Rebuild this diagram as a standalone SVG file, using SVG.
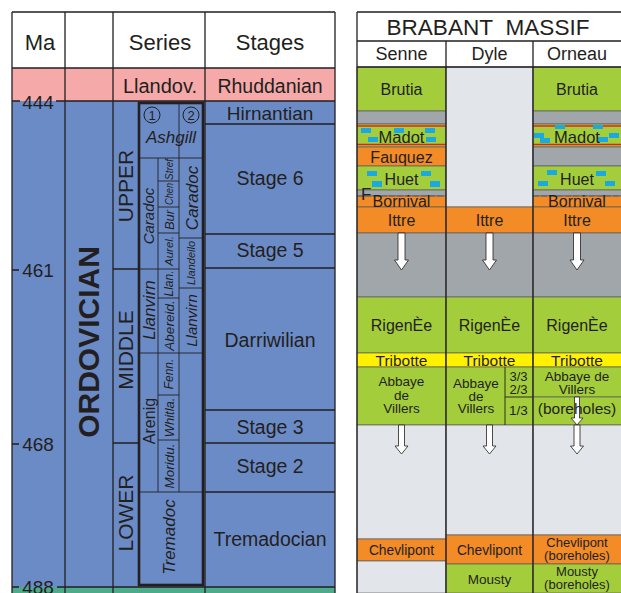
<svg xmlns="http://www.w3.org/2000/svg" width="621" height="593" viewBox="0 0 621 593">
<style>
.t{font-family:"Liberation Sans",Arial,sans-serif;fill:#231f20}
.i{font-style:italic}
.m{text-anchor:middle}
.b{font-weight:bold}
.ln{stroke:#231f20;stroke-width:1.3;fill:none}
.th{stroke:#231f20;stroke-width:0.9;fill:none}
.g{fill:#a3cd3b}
.o{fill:#f38b26}
.gr{fill:#a1a6ab}
.lg{fill:#e2e5ea}
.y{fill:#fff200}
.lay{stroke:#5a5b5d;stroke-width:0.7}
.bl{fill:#1ba9e1}
.red{stroke:#ec1c24;stroke-width:1.6}
.arr{fill:#ffffff;stroke:#231f20;stroke-width:0.8}
</style>
<rect width="621" height="593" fill="#ffffff"/>

<!-- LEFT PANEL -->
<g id="chronostrat">
<rect x="12" y="12" width="323" height="56" fill="#ffffff"/>
<rect x="12" y="68" width="323" height="33" fill="#f6a9a9"/>
<rect x="12" y="101" width="323" height="486" fill="#6b8bc7"/>
<rect x="12" y="587" width="323" height="6" fill="#4dab8c"/>
</g>

<g id="header-left">
<text class="t m" x="40" y="50" font-size="22">Ma</text>
<text class="t m" x="160" y="50" font-size="22">Series</text>
<text class="t m" x="270" y="50" font-size="22">Stages</text>
<text class="t m" x="160" y="93" font-size="20">Llandov.</text>
<text class="t m" x="270" y="93" font-size="19.5">Rhuddanian</text>
</g>

<g id="ma-scale">
<text class="t m" x="38" y="109" font-size="19">444</text>
<text class="t m" x="38" y="277" font-size="19">461</text>
<text class="t m" x="38" y="451" font-size="19">468</text>
<text class="t m" x="38" y="594" font-size="19">488</text>
</g>

<g id="system">
<text class="t m b" font-size="30" transform="translate(99,342) rotate(-90)">ORDOVICIAN</text>
</g>

<g id="epochs">
<text class="t m" font-size="21" transform="translate(132.5,186) rotate(-90)">UPPER</text>
<text class="t m" font-size="21" transform="translate(132.5,350) rotate(-90)">MIDDLE</text>
<text class="t m" font-size="21" transform="translate(132.5,513) rotate(-90)">LOWER</text>
</g>

<g id="british-series">
<circle cx="152" cy="115" r="8" fill="none" stroke="#231f20" stroke-width="1"/>
<text class="t m" x="152" y="120" font-size="13">1</text>
<circle cx="191" cy="115" r="8" fill="none" stroke="#231f20" stroke-width="1"/>
<text class="t m" x="191" y="120" font-size="13">2</text>
<text class="t m i" x="171" y="143" font-size="17">Ashgill</text>
<text class="t m i" font-size="15" transform="translate(154,216) rotate(-90)">Caradoc</text>
<text class="t m i" font-size="17" transform="translate(155,310) rotate(-90)">Llanvirn</text>
<text class="t m" font-size="16" transform="translate(155,421) rotate(-90)">Arenig</text>
<text class="t m i" font-size="17" transform="translate(175,537) rotate(-90)">Tremadoc</text>
<text class="t m i" font-size="11" textLength="21" lengthAdjust="spacingAndGlyphs" transform="translate(172.5,169.5) rotate(-90)">Stref</text>
<text class="t m i" font-size="11" textLength="22" lengthAdjust="spacingAndGlyphs" transform="translate(172.5,194) rotate(-90)">Chen</text>
<text class="t m i" font-size="13" transform="translate(173.5,220) rotate(-90)">Bur</text>
<text class="t m i" font-size="11.5" transform="translate(172.5,251) rotate(-90)">Aurel.</text>
<text class="t m i" font-size="12" transform="translate(173,283.5) rotate(-90)">Llan.</text>
<text class="t m i" font-size="13.5" transform="translate(173.5,325.5) rotate(-90)">Abereid.</text>
<text class="t m i" font-size="12" transform="translate(173,374) rotate(-90)">Fenn.</text>
<text class="t m i" font-size="13" transform="translate(173.5,417.5) rotate(-90)">Whitla.</text>
<text class="t m i" font-size="13.5" transform="translate(173.5,466) rotate(-90)">Moridu.</text>
<text class="t m i" font-size="17" transform="translate(197.5,198) rotate(-90)">Caradoc</text>
<text class="t m i" font-size="11" transform="translate(195,263) rotate(-90)">Llandeilo</text>
<text class="t m i" font-size="15" transform="translate(196.5,320.5) rotate(-90)">Llanvirn</text>
</g>

<g id="stages">
<text class="t m" x="270" y="120" font-size="19">Hirnantian</text>
<text class="t m" x="270" y="185" font-size="19.5">Stage 6</text>
<text class="t m" x="270" y="257" font-size="19.5">Stage 5</text>
<text class="t m" x="270" y="347" font-size="19.5">Darriwilian</text>
<text class="t m" x="270" y="434" font-size="19.5">Stage 3</text>
<text class="t m" x="270" y="473" font-size="19.5">Stage 2</text>
<text class="t m" x="270" y="546" font-size="19.5">Tremadocian</text>
</g>

<g id="grid-left">
<path class="ln" d="M12 12V593M65 12V593M113 12V593M205 12V593M335 12V593"/>
<path class="ln" d="M12 12H335M12 68H335"/>
<path class="ln" d="M12 101H20M56 101H335M12 587H19M57 587H335"/>
<path class="ln" d="M12 270H19M12 444H19"/>
<path class="ln" d="M205 124H335M205 234H335M205 268H335M205 410H335M205 443H335M205 492H335"/>
<path class="ln" d="M113 269H139M113 443H139"/>
<rect x="139" y="103" width="64" height="482" fill="none" stroke="#231f20" stroke-width="2.6"/>
<path class="th" d="M179 103V158M139 158H203M158 158V492M179 158V492"/>
<path class="th" d="M158 181H179M158 207H179M158 233H179M139 269H179M158 298H179M139 353H203M158 395H179M158 440H179M139 492H203"/>
<path class="th" d="M179 238H203M179 288H203"/>
</g>

<!-- RIGHT PANEL -->
<g id="header-right">
<rect x="357" y="12" width="264" height="55" fill="#ffffff"/>
<text class="t m" x="488" y="35" font-size="22" textLength="203" lengthAdjust="spacingAndGlyphs">BRABANT&#160; MASSIF</text>
<text class="t m" x="401.5" y="60" font-size="18">Senne</text>
<text class="t m" x="489.5" y="60" font-size="18">Dyle</text>
<text class="t m" x="577" y="60" font-size="18">Orneau</text>
</g>

<g id="senne">
<rect class="g lay" x="357" y="67" width="89" height="44"/>
<rect class="gr lay" x="357" y="111" width="89" height="13"/>
<rect class="g lay" x="357" y="124" width="89" height="23"/>
<rect class="o lay" x="357" y="147" width="89" height="19"/>
<rect class="g lay" x="357" y="166" width="89" height="24"/>
<rect class="gr lay" x="357" y="190" width="89" height="6"/>
<rect class="o lay" x="357" y="196" width="89" height="11"/>
<rect class="o lay" x="357" y="207" width="89" height="26"/>
<rect class="gr lay" x="357" y="233" width="89" height="64"/>
<rect class="g lay" x="357" y="297" width="89" height="56"/>
<rect class="y lay" x="357" y="353" width="89" height="14"/>
<rect class="g lay" x="357" y="367" width="89" height="58"/>
<rect class="lg lay" x="357" y="425" width="89" height="114"/>
<rect class="o lay" x="357" y="539" width="89" height="22"/>
<rect class="lg lay" x="357" y="561" width="89" height="32"/>
<line class="red" x1="357" y1="126" x2="446" y2="126"/>
<line class="red" x1="357" y1="144.5" x2="446" y2="144.5"/>
<rect class="bl" x="361" y="128" width="10" height="5"/>
<rect class="bl" x="394" y="128" width="10" height="5"/>
<rect class="bl" x="425" y="128" width="10" height="5"/>
<rect class="bl" x="368" y="137" width="10" height="5"/>
<rect class="bl" x="426" y="137" width="10" height="5"/>
<rect class="bl" x="367" y="171" width="10" height="5"/>
<rect class="bl" x="372" y="181" width="10" height="6"/>
<rect class="bl" x="421" y="171" width="10" height="5"/>
<rect class="bl" x="430" y="181" width="10" height="6"/>
<line x1="357" y1="196" x2="446" y2="196" stroke="#5a5b5d" stroke-width="0.8" stroke-dasharray="6 2"/>
<text class="t m" x="401.5" y="95" font-size="16">Brutia</text>
<text class="t m" x="401.5" y="143" font-size="16.5">Madot</text>
<text class="t m" x="401.5" y="162.5" font-size="16">Fauquez</text>
<text class="t m" x="401.5" y="184.5" font-size="16">Huet</text>
<text class="t" x="361" y="200" font-size="17">F</text>
<text class="t m" x="401.5" y="206.5" font-size="16">Bornival</text>
<text class="t m" x="401.5" y="225.5" font-size="16">Ittre</text>
<text class="t m" x="401.5" y="330.5" font-size="16">RigenÈe</text>
<text class="t m" x="401.5" y="365.5" font-size="15.5">Tribotte</text>
<text class="t m" x="401.5" y="386" font-size="13.5">Abbaye</text>
<text class="t m" x="401.5" y="400" font-size="13.5">de</text>
<text class="t m" x="401.5" y="413" font-size="13.5">Villers</text>
<text class="t m" x="401.5" y="555" font-size="13.8">Chevlipont</text>
</g>

<g id="dyle">
<rect class="lg lay" x="446" y="67" width="87" height="140"/>
<rect class="o lay" x="446" y="207" width="87" height="26"/>
<rect class="gr lay" x="446" y="233" width="87" height="64"/>
<rect class="g lay" x="446" y="297" width="87" height="56"/>
<rect class="y lay" x="446" y="353" width="87" height="14"/>
<rect class="g lay" x="446" y="367" width="87" height="58"/>
<rect class="lg lay" x="446" y="425" width="87" height="110"/>
<rect class="o lay" x="446" y="535" width="87" height="29"/>
<rect class="g lay" x="446" y="564" width="87" height="29"/>
<path class="th" d="M505 367V425M505 397H533"/>
<text class="t m" x="489.5" y="225.5" font-size="16">Ittre</text>
<text class="t m" x="489.5" y="330.5" font-size="16">RigenÈe</text>
<text class="t m" x="489.5" y="365.5" font-size="15.5">Tribotte</text>
<text class="t m" x="476" y="388" font-size="13.5">Abbaye</text>
<text class="t m" x="476" y="400.5" font-size="13.5">de</text>
<text class="t m" x="476" y="413" font-size="13.5">Villers</text>
<text class="t m" x="518.5" y="381" font-size="13">3/3</text>
<text class="t m" x="518.5" y="394" font-size="13">2/3</text>
<text class="t m" x="518.5" y="414.5" font-size="13.5">1/3</text>
<text class="t m" x="489.5" y="555" font-size="13.8">Chevlipont</text>
<text class="t m" x="489.5" y="584" font-size="13.5">Mousty</text>
</g>

<g id="orneau">
<rect class="g lay" x="533" y="67" width="90" height="44"/>
<rect class="gr lay" x="533" y="111" width="90" height="13"/>
<rect class="g lay" x="533" y="124" width="90" height="23"/>
<rect class="gr lay" x="533" y="147" width="90" height="19"/>
<rect class="g lay" x="533" y="166" width="90" height="24"/>
<rect class="gr lay" x="533" y="190" width="90" height="6"/>
<rect class="o lay" x="533" y="196" width="90" height="11"/>
<rect class="o lay" x="533" y="207" width="90" height="26"/>
<rect class="gr lay" x="533" y="233" width="90" height="64"/>
<rect class="g lay" x="533" y="297" width="90" height="56"/>
<rect class="y lay" x="533" y="353" width="90" height="14"/>
<rect class="g lay" x="533" y="367" width="90" height="30"/>
<rect class="g lay" x="533" y="397" width="90" height="28"/>
<rect class="lg lay" x="533" y="425" width="90" height="110"/>
<rect class="o lay" x="533" y="535" width="90" height="29"/>
<rect class="g lay" x="533" y="564" width="90" height="29"/>
<line class="red" x1="533" y1="126" x2="621" y2="126"/>
<line class="red" x1="533" y1="144.5" x2="621" y2="144.5"/>
<rect class="bl" x="555" y="125" width="10" height="4"/>
<rect class="bl" x="593" y="125" width="10" height="4"/>
<rect class="bl" x="534" y="133" width="10" height="5"/>
<rect class="bl" x="540" y="138" width="10" height="5"/>
<rect class="bl" x="598" y="137" width="10" height="5"/>
<rect class="bl" x="609" y="133" width="10" height="5"/>
<rect class="bl" x="547" y="170" width="10" height="5"/>
<rect class="bl" x="538" y="181" width="10" height="5"/>
<rect class="bl" x="596" y="171" width="10" height="5"/>
<rect class="bl" x="605" y="181" width="10" height="5"/>
<line x1="533" y1="196" x2="621" y2="196" stroke="#5a5b5d" stroke-width="0.8" stroke-dasharray="6 2"/>
<text class="t m" x="577" y="95" font-size="16">Brutia</text>
<text class="t m" x="577" y="143" font-size="16.5">Madot</text>
<text class="t m" x="577" y="184.5" font-size="16">Huet</text>
<text class="t m" x="577" y="206.5" font-size="16">Bornival</text>
<text class="t m" x="577" y="225.5" font-size="16">Ittre</text>
<text class="t m" x="577" y="330.5" font-size="16">RigenÈe</text>
<text class="t m" x="577" y="365.5" font-size="15.5">Tribotte</text>
<text class="t m" x="577" y="381" font-size="13.5">Abbaye de</text>
<text class="t m" x="577" y="394" font-size="13.5">Villers</text>
<text class="t m" x="577" y="547" font-size="13">Chevlipont</text>
<text class="t m" x="577" y="560" font-size="13">(boreholes)</text>
<text class="t m" x="577" y="576" font-size="13">Mousty</text>
<text class="t m" x="577" y="589" font-size="13">(boreholes)</text>
</g>

<g id="arrows">
<path class="arr" d="M398 233V260H394.5L401.5 270L408.5 260H405V233Z"/>
<path class="arr" d="M486 233V260H482.5L489.5 270L496.5 260H493V233Z"/>
<path class="arr" d="M573.5 233V260H570L577 270L584 260H580.5V233Z"/>
<path class="arr" d="M398.5 425V446H395L401.5 454L408 446H404.5V425Z"/>
<path class="arr" d="M486.5 425V446H483L489.5 454L496 446H492.5V425Z"/>
<path class="arr" d="M574 425V446H570.5L577 454L583.5 446H580V425Z"/>
<path class="arr" d="M574.5 397V418H571L577 425L583 418H579.5V397Z"/>
</g>
<text class="t m" x="577" y="414" font-size="15.5">(boreholes)</text>

<g id="grid-right">
<path class="ln" d="M357 12V593M446 41V593M533 41V593"/>
<path class="ln" d="M357 12H621M357 41H621M357 67H621"/>
</g>
</svg>
